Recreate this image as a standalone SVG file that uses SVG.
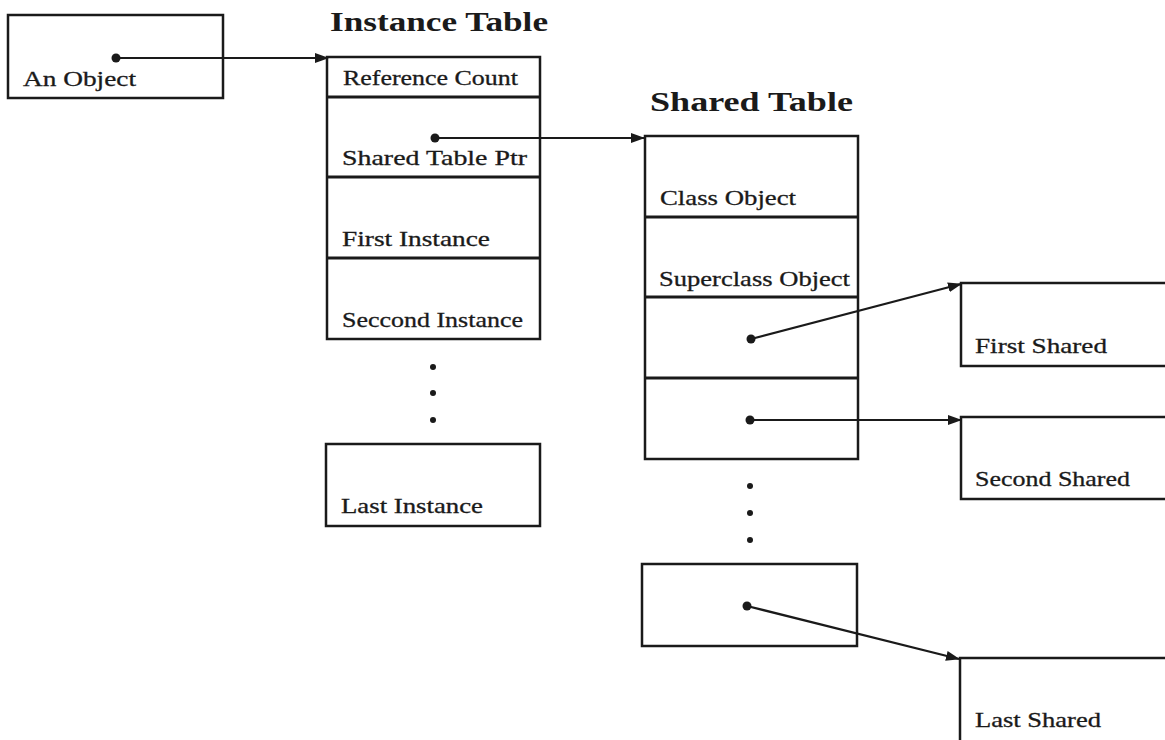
<svg xmlns="http://www.w3.org/2000/svg" width="1165" height="740" viewBox="0 0 1165 740">
<style>
.box{fill:none;stroke:#1a1a1a;stroke-width:2.5}
.div{stroke:#1a1a1a;stroke-width:3}
.lbl{font-family:"Liberation Serif","DejaVu Serif",serif;font-size:21px;fill:#1a1a1a;stroke:#1a1a1a;stroke-width:0.3}
.ttl{font-family:"Liberation Serif","DejaVu Serif",serif;font-size:28px;font-weight:bold;fill:#1a1a1a}
.con{stroke:#1a1a1a;stroke-width:2.2;fill:none;marker-end:url(#ah)}
.dot{fill:#1a1a1a}
</style>
<defs>
<marker id="ah" markerWidth="14" markerHeight="10" refX="13" refY="5" orient="auto" markerUnits="userSpaceOnUse">
<path d="M0,0 L14,5 L0,10 Z" fill="#1a1a1a"/>
</marker>
</defs>
<rect width="1165" height="740" fill="#fff"/>
<g id="an-object">
<rect class="box" x="8" y="15" width="215" height="83"/>
<text class="lbl" x="23" y="86" textLength="113" lengthAdjust="spacingAndGlyphs">An Object</text>
</g>
<g id="instance-table">
<text class="ttl" x="330" y="31" textLength="218" lengthAdjust="spacingAndGlyphs">Instance Table</text>
<rect class="box" x="327" y="57" width="213" height="282"/>
<line class="div" x1="327" y1="97" x2="540" y2="97"/>
<line class="div" x1="327" y1="177" x2="540" y2="177"/>
<line class="div" x1="327" y1="258" x2="540" y2="258"/>
<text class="lbl" x="343" y="85" textLength="175" lengthAdjust="spacingAndGlyphs">Reference Count</text>
<text class="lbl" x="342" y="165" textLength="185" lengthAdjust="spacingAndGlyphs">Shared Table Ptr</text>
<text class="lbl" x="342" y="246" textLength="148" lengthAdjust="spacingAndGlyphs">First Instance</text>
<text class="lbl" x="342" y="327" textLength="181" lengthAdjust="spacingAndGlyphs">Seccond Instance</text>
<circle class="dot" cx="433" cy="367" r="3"/>
<circle class="dot" cx="433" cy="393" r="3"/>
<circle class="dot" cx="433" cy="420" r="3"/>
</g>
<g id="last-instance">
<rect class="box" x="326" y="444" width="214" height="82"/>
<text class="lbl" x="341" y="513" textLength="142" lengthAdjust="spacingAndGlyphs">Last Instance</text>
</g>
<g id="shared-table">
<text class="ttl" x="650" y="111" textLength="203" lengthAdjust="spacingAndGlyphs">Shared Table</text>
<rect class="box" x="645" y="136" width="213" height="323"/>
<line class="div" x1="645" y1="217" x2="858" y2="217"/>
<line class="div" x1="645" y1="297" x2="858" y2="297"/>
<line class="div" x1="645" y1="378" x2="858" y2="378"/>
<text class="lbl" x="660" y="205" textLength="136" lengthAdjust="spacingAndGlyphs">Class Object</text>
<text class="lbl" x="659" y="286" textLength="191" lengthAdjust="spacingAndGlyphs">Superclass Object</text>
<circle class="dot" cx="750" cy="486" r="3"/>
<circle class="dot" cx="750" cy="513" r="3"/>
<circle class="dot" cx="750" cy="540" r="3"/>
</g>
<g id="last-shared-slot">
<rect class="box" x="642" y="564" width="215" height="82"/>
</g>
<g id="first-shared">
<rect class="box" x="961" y="283" width="215" height="83"/>
<text class="lbl" x="975" y="353" textLength="132" lengthAdjust="spacingAndGlyphs">First Shared</text>
</g>
<g id="second-shared">
<rect class="box" x="961" y="417" width="215" height="82"/>
<text class="lbl" x="975" y="486" textLength="155" lengthAdjust="spacingAndGlyphs">Second Shared</text>
</g>
<g id="last-shared">
<rect class="box" x="960" y="658" width="215" height="90"/>
<text class="lbl" x="975" y="727" textLength="126" lengthAdjust="spacingAndGlyphs">Last Shared</text>
</g>
<g id="connectors">
<circle class="dot" cx="116" cy="58" r="4.5"/>
<path class="con" d="M116,58 L328,58"/>
<circle class="dot" cx="435" cy="138" r="4.5"/>
<path class="con" d="M435,138 L644,138"/>
<circle class="dot" cx="751" cy="339" r="4.5"/>
<path class="con" d="M751,339 L961,284"/>
<circle class="dot" cx="750" cy="420" r="4.5"/>
<path class="con" d="M750,420 L961,420"/>
<circle class="dot" cx="747" cy="606" r="4.5"/>
<path class="con" d="M747,606 L959,659"/>
</g>
</svg>
